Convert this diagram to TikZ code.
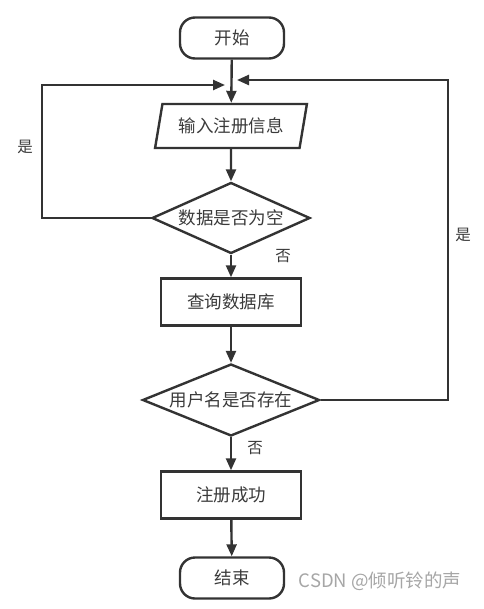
\documentclass[tikz,border=0pt]{standalone}
\usepackage{fontspec}
\setmainfont{Noto Sans CJK SC}
\usetikzlibrary{shapes.geometric,arrows.meta,positioning}
\definecolor{ln}{HTML}{333333}
\definecolor{tx}{HTML}{3A3A3A}
\begin{document}
\begin{tikzpicture}[x=1pt,y=-1pt,
  every node/.style={font=\fontsize{17.5pt}{19pt}\selectfont,text=tx},
  base/.style={draw=ln,line width=2.4pt},
  term/.style={base,rounded corners=15pt,minimum width=104pt,minimum height=41pt,inner sep=0pt},
  proc/.style={base,minimum width=140pt,minimum height=47pt,inner sep=0pt},
  io/.style={base,trapezium,trapezium left angle=71,trapezium right angle=109,minimum width=152pt,minimum height=44pt,inner sep=0pt,trapezium stretches=true},
  dec/.style={base,diamond,aspect=2.2,inner sep=0pt},
  lbl/.style={font=\fontsize{15.5pt}{17pt}\selectfont},
  arr/.style={draw=ln,line width=2.4pt,-{Triangle[length=12pt,width=10pt]}},
  lin/.style={draw=ln,line width=2.4pt}]
\useasboundingbox (0,0) rectangle (483,609);
\node[term] (start) at (232,38) {开始};
\node[io] (input) at (231,126) {输入注册信息};
\node[dec,minimum width=158pt,minimum height=71pt] (empty) at (231,218) {数据是否为空};
\node[proc] (query) at (231,302) {查询数据库};
\node[dec,minimum width=177pt,minimum height=70pt] (exist) at (231,400) {用户名是否存在};
\node[proc] (ok) at (231,495) {注册成功};
\node[term] (end) at (232,578) {结束};
\coordinate (jl) at (225,85);
\coordinate (jr) at (237,80);
\coordinate (l1) at (42,218);
\coordinate (l2) at (42,85);
\coordinate (r1) at (448,400);
\coordinate (r2) at (448,80);
\draw[arr] (start) -- (input);
\draw[arr] (input) -- (empty);
\draw[arr] (empty) -- (query);
\draw[arr] (query) -- (exist);
\draw[arr] (exist) -- (ok);
\draw[arr] (ok) -- (end);
\draw[arr] (empty.west) -- (l1) -- (l2) -- (jl);
\draw[arr] (exist.east) -- (r1) -- (r2) -- (jr);
\node[lbl] (y1) at (25,147) {是};
\node[lbl] (n1) at (283,256) {否};
\node[lbl] (y2) at (463,235) {是};
\node[lbl] (n2) at (255,448) {否};
\node[font=\fontsize{18.5pt}{20pt}\selectfont,text=black!35] (wm) at (380,581) {CSDN @倾听铃的声};
\end{tikzpicture}
\end{document}
